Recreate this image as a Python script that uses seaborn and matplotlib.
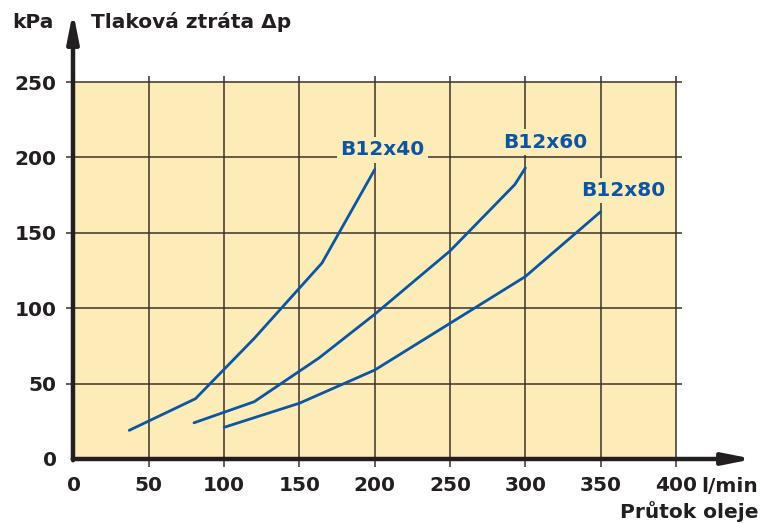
import matplotlib
matplotlib.use("Agg")
import matplotlib.pyplot as plt
import seaborn as sns
import pandas as pd

# Data (flow l/min -> pressure loss kPa)
b40_flow = [37, 81, 120, 165, 200]
b40_dp = [19, 40, 80, 130, 192]
b60_flow = [80, 120, 163, 200, 250, 293, 300]
b60_dp = [24, 38, 67, 96, 138, 182, 193]
b80_flow = [100, 150, 200, 250, 300, 350]
b80_dp = [21, 37, 59, 90, 121, 164]

series_names = ["B12x40", "B12x60", "B12x80"]
label_pos = {"B12x40": (205, 205), "B12x60": (313, 210), "B12x80": (365, 178)}

x_ticks = [0, 50, 100, 150, 200, 250, 300, 350, 400]
y_ticks = [0, 50, 100, 150, 200, 250]

BG = "#FEECB8"
BLUE = "#0B55A3"
DARK = "#231F20"
GRID = "#3A3226"

df = pd.concat([
    pd.DataFrame({"flow": b40_flow, "dp": b40_dp, "typ": "B12x40"}),
    pd.DataFrame({"flow": b60_flow, "dp": b60_dp, "typ": "B12x60"}),
    pd.DataFrame({"flow": b80_flow, "dp": b80_dp, "typ": "B12x80"}),
])

sns.set_theme(style="white")
plt.rcParams["font.family"] = ["DejaVu Sans"]

fig = plt.figure(figsize=(7.62, 5.24), dpi=100)
ax = fig.add_axes([73.5 / 762, 1 - 459 / 524, (676 - 73.5) / 762, (459 - 82) / 524])
ax.set_facecolor(BG)

sns.lineplot(data=df, x="flow", y="dp", units="typ", estimator=None,
             color=BLUE, lw=2.0, sort=False, ax=ax, legend=False, zorder=3)

ax.set_xlim(0, 400)
ax.set_ylim(0, 250)

# grid lines slightly overshooting the plot frame
ax.vlines(x_ticks[1:], -5, 254, colors=GRID, lw=1.1, clip_on=False, zorder=2)
ax.hlines(y_ticks[1:], -5, 404, colors=GRID, lw=1.1, clip_on=False, zorder=2)

for s in ax.spines.values():
    s.set_visible(False)

ax.set_xticks(x_ticks)
ax.set_yticks(y_ticks)
ax.tick_params(length=0, pad=12)
ax.set_xticklabels([str(v) for v in x_ticks], fontsize=14.5, fontweight="bold", color=DARK)
ax.set_yticklabels([str(v) for v in y_ticks], fontsize=14.5, fontweight="bold", color=DARK)
ax.set_xlabel("")
ax.set_ylabel("")

# curve labels with background patch hiding grid
for name in series_names:
    lx, ly = label_pos[name]
    ax.text(lx, ly, name, ha="center", va="center", fontsize=14.5, fontweight="bold",
            color=BLUE, zorder=4,
            bbox=dict(facecolor=BG, edgecolor="none", pad=2.5))

# axes with arrows
arrow_style = "-|>,head_length=0.85,head_width=0.17"
fig.patches.append(matplotlib.patches.FancyArrowPatch(
    (73 / 762, 1 - 463 / 524), (73 / 762, 1 - 9 / 524), transform=fig.transFigure,
    arrowstyle=arrow_style, mutation_scale=20, color=DARK, lw=3.2))
fig.patches.append(matplotlib.patches.FancyArrowPatch(
    (70 / 762, 1 - 459 / 524), (756 / 762, 1 - 459 / 524), transform=fig.transFigure,
    arrowstyle=arrow_style, mutation_scale=20, color=DARK, lw=3.2))

fig.text(12 / 762, 1 - 22 / 524, "kPa", fontsize=14.5, fontweight="bold", color=DARK, va="center")
fig.text(91 / 762, 1 - 22 / 524, "Tlaková ztráta Δp", fontsize=14.5, fontweight="bold",
         color=DARK, va="center")
fig.text(758 / 762, 1 - 486 / 524, "l/min", fontsize=14.5, fontweight="bold", color=DARK,
         va="center", ha="right")
fig.text(758 / 762, 1 - 512 / 524, "Průtok oleje", fontsize=14.5, fontweight="bold",
         color=DARK, va="center", ha="right")

fig.savefig("out.png", dpi=100, facecolor="white")
